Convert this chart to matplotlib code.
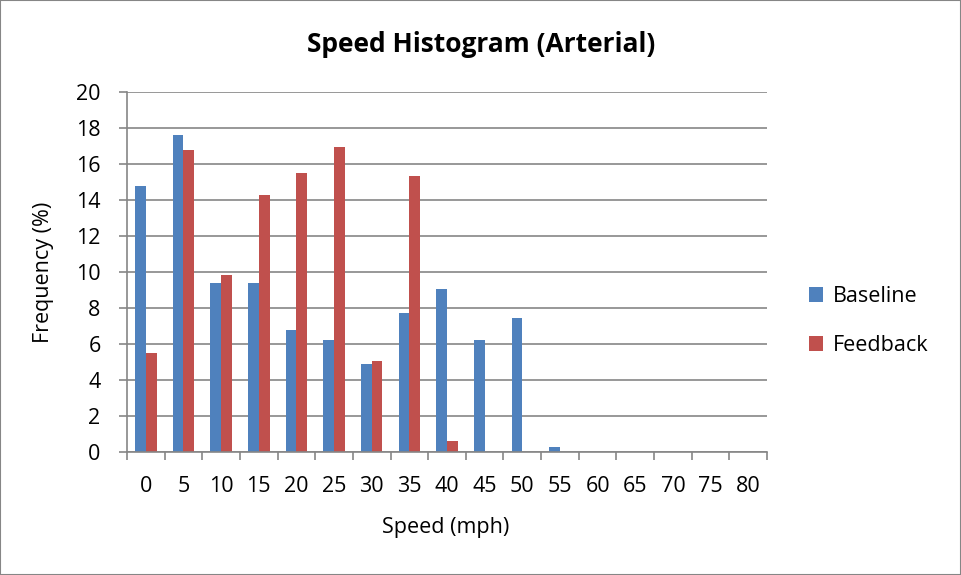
import matplotlib.pyplot as plt
import numpy as np
from matplotlib.patches import Rectangle

plt.rcParams['font.family'] = ['Open Sans', 'DejaVu Sans']

speeds = ['0', '5', '10', '15', '20', '25', '30', '35', '40', '45', '50', '55', '60', '65', '70', '75', '80']
baseline = [14.8, 17.6, 9.4, 9.4, 6.8, 6.2, 4.9, 7.7, 9.05, 6.2, 7.45, 0.3, 0, 0, 0, 0, 0]
feedback = [5.5, 16.8, 9.85, 14.3, 15.5, 16.95, 5.05, 15.35, 0.6, 0, 0, 0, 0, 0, 0, 0, 0]

blue = '#4F81BD'
red = '#C0504D'
grey = '#868686'
fs = 15.5

fig = plt.figure(figsize=(9.61, 5.75), dpi=100)
# plot area placed in pixel terms
ax = fig.add_axes([127 / 961, (575 - 452) / 575, 640 / 961, 360 / 575])

x = np.arange(len(speeds))
width = 0.286
ax.bar(x - width / 2, baseline, width, color=blue, label='Baseline')
ax.bar(x + width / 2, feedback, width, color=red, label='Feedback')

ax.set_xlim(-0.5, len(speeds) - 0.5)
ax.set_ylim(0, 20)
ax.set_yticks(np.arange(0, 21, 2))
ax.yaxis.grid(True, color=grey, linewidth=1.2)
ax.set_axisbelow(True)

# category labels in the middle, tick marks on the boundaries
ax.set_xticks(x)
ax.set_xticklabels(speeds, fontsize=fs)
ax.set_xticks(np.arange(-0.5, len(speeds), 1), minor=True)
ax.tick_params(axis='x', which='major', length=0, pad=17)
ax.tick_params(axis='x', which='minor', length=6, width=1.2, color=grey, direction='out')
ax.tick_params(axis='y', length=6, width=1.2, color=grey, labelsize=fs, pad=13)

for side in ['top', 'right']:
    ax.spines[side].set_visible(False)
for side in ['left', 'bottom']:
    ax.spines[side].set_color(grey)
    ax.spines[side].set_linewidth(1.2)

fig.text(446 / 961, 1 - 527 / 575, 'Speed (mph)', ha='center', va='center', fontsize=fs)
fig.text(44 / 961, 1 - 272 / 575, 'Frequency (%)', ha='center', va='center',
         rotation=90, fontsize=fs)

fig.text(481 / 961, 1 - 44 / 575, 'Speed Histogram (Arterial)', ha='center', va='center',
         fontsize=19, fontweight='bold')

ax.legend(loc='center left', bbox_to_anchor=(790 / 961, (575 - 321) / 575),
          bbox_transform=fig.transFigure, frameon=False, fontsize=fs,
          handlelength=0.65, handleheight=0.65, handletextpad=0.45, labelspacing=1.3)

fig.patches.append(Rectangle((0.0005, 0.0005), 0.999, 0.999, transform=fig.transFigure,
                             fill=False, edgecolor=grey, linewidth=1.5))

fig.savefig('out.png', dpi=100)
